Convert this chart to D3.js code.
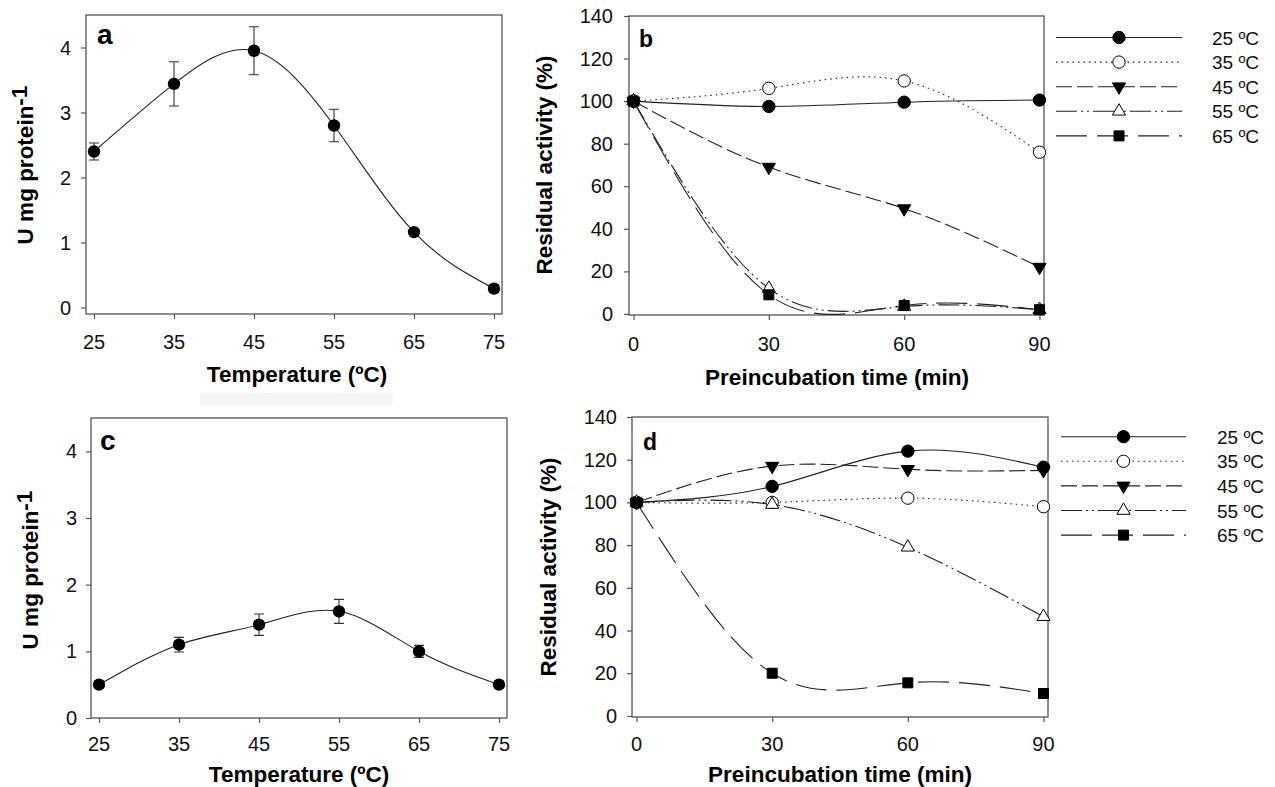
<!DOCTYPE html>
<html>
<head>
<meta charset="utf-8">
<script src="https://cdn.jsdelivr.net/npm/d3@7.9.0/dist/d3.min.js"></script>
<style>
  body { margin: 0; background: #fff; }
  svg { display: block; font-family: "Liberation Sans", Arial, sans-serif; }
</style>
</head>
<body>
<svg width="1275" height="787"></svg>
<script>
// temperature profiles (a, c)
const tempC = [25, 35, 45, 55, 65, 75];
const activityA = [2.4, 3.44, 3.95, 2.8, 1.16, 0.29];
const errorA = [0.13, 0.34, 0.37, 0.25, 0.03, 0.06];
const activityC = [0.5, 1.1, 1.4, 1.6, 1.0, 0.5];
const errorC = [0, 0.11, 0.16, 0.18, 0.09, 0];
const tempTicks = [25, 35, 45, 55, 65, 75];
const unitTicks = [0, 1, 2, 3, 4];

// thermal stability (b, d)
const preincTime = [0, 30, 60, 90];
const seriesLabels = ['25 ºC', '35 ºC', '45 ºC', '55 ºC', '65 ºC'];
const stabB25 = [100, 97.5, 99.5, 100.5];
const stabB35 = [100, 106, 109.5, 76];
const stabB45 = [100, 69, 49.5, 22];
const stabB55 = [100, 12, 3.5, 2];
const stabB65 = [100, 9, 4, 2];
const stabD25 = [100, 107.5, 124, 116.5];
const stabD35 = [100, 100, 102, 98];
const stabD45 = [100, 117, 115.5, 115];
const stabD55 = [100, 99, 79, 46.5];
const stabD65 = [100, 20, 15.5, 10.5];
const timeTicks = [0, 30, 60, 90];
const residualTicks = [0, 20, 40, 60, 80, 100, 120, 140];

const svg = d3.select('svg');
const frameColor = '#555';

// faint box left over in the source figure
svg.append('rect').attr('x', 200).attr('y', 393).attr('width', 193).attr('height', 12).attr('fill', '#f5f5f5');

// line + marker style per series
const styles = [
  { dash: null, sym: d3.symbolCircle, size: 120, fill: '#000', rot: 0 },
  { dash: '1.5,4', sym: d3.symbolCircle, size: 120, fill: '#fff', rot: 0 },
  { dash: '16,5', sym: d3.symbolTriangle, size: 75, fill: '#000', rot: 180 },
  { dash: '21,4,2,4,2,4', sym: d3.symbolTriangle, size: 75, fill: '#fff', rot: 0 },
  { dash: '31,10', sym: d3.symbolSquare, size: 100, fill: '#000', rot: 0 },
];

function drawMarker(g, st, x, y) {
  g.append('path')
    .attr('d', d3.symbol().type(st.sym).size(st.size)())
    .attr('transform', `translate(${x},${y}) rotate(${st.rot})`)
    .attr('fill', st.fill)
    .attr('stroke', '#000')
    .attr('stroke-width', 1);
}

function drawFrame(p, x, y) {
  let g = svg.append('g');
  g.append('rect')
    .attr('x', p.left).attr('y', p.top)
    .attr('width', p.right - p.left).attr('height', p.bottom - p.top)
    .attr('fill', 'none').attr('stroke', frameColor).attr('stroke-width', 1.3);

  // tick marks from d3 axes, labels written as plain text
  let xAxis = g.append('g')
    .attr('transform', `translate(0,${p.bottom})`)
    .call(d3.axisBottom(x).tickValues(p.xTicks).tickSize(5).tickSizeOuter(0));
  let yAxis = g.append('g')
    .attr('transform', `translate(${p.left},0)`)
    .call(d3.axisLeft(y).tickValues(p.yTicks).tickSize(5).tickSizeOuter(0));
  [xAxis, yAxis].forEach((a) => {
    a.select('.domain').remove();
    a.selectAll('text').remove();
    a.selectAll('line').attr('stroke', frameColor).attr('stroke-width', 1.2);
  });

  p.xTicks.forEach((t) => {
    g.append('text').attr('x', x(t)).attr('y', p.bottom + p.xPad)
      .attr('text-anchor', 'middle').attr('font-size', 20).attr('fill', '#111').text(t);
  });
  p.yTicks.forEach((t) => {
    g.append('text').attr('x', p.left - p.yPad).attr('y', y(t) + 7)
      .attr('text-anchor', 'end').attr('font-size', 20).attr('fill', '#111').text(t);
  });

  // panel letter
  g.append('text').attr('x', p.letterX).attr('y', p.letterY)
    .attr('font-size', p.letterSize).attr('font-weight', 'bold').text(p.letter);

  // axis titles
  g.append('text').attr('x', p.xTitleX).attr('y', p.xTitleY)
    .attr('text-anchor', 'middle').attr('font-size', 22.5).attr('font-weight', 'bold')
    .text(p.xTitle);
  let yt = g.append('text')
    .attr('transform', `translate(${p.yTitleX},${p.yTitleY}) rotate(-90)`)
    .attr('text-anchor', 'middle').attr('font-size', 22.5).attr('font-weight', 'bold');
  if (p.superscript) {
    yt.append('tspan').text(p.yTitle);
    yt.append('tspan').attr('dy', -6).text(p.superscript);
  } else {
    yt.text(p.yTitle);
  }
  return g;
}

function drawTempPanel(p, values, errors) {
  let x = d3.scaleLinear().domain([24, 76]).range([p.left, p.right]);
  let y = d3.scaleLinear().domain(p.yDomain).range([p.bottom, p.top]);
  let g = drawFrame(p, x, y);

  let pts = tempC.map((t, i) => ({ t, v: values[i], e: errors[i] }));
  let line = d3.line().x((d) => x(d.t)).y((d) => y(d.v)).curve(d3.curveNatural);
  g.append('path').attr('d', line(pts)).attr('fill', 'none').attr('stroke', '#222').attr('stroke-width', 1.1);

  pts.filter((d) => d.e > 0).forEach((d) => {
    let cx = x(d.t);
    let y1 = y(d.v + d.e), y2 = y(d.v - d.e);
    g.append('path')
      .attr('d', `M${cx},${y1}V${y2}M${cx - 5},${y1}H${cx + 5}M${cx - 5},${y2}H${cx + 5}`)
      .attr('stroke', '#333').attr('stroke-width', 1.1).attr('fill', 'none');
  });
  pts.forEach((d) => {
    g.append('circle').attr('cx', x(d.t)).attr('cy', y(d.v)).attr('r', 6.2).attr('fill', '#000');
  });
}

function drawStabilityPanel(p, series, legend) {
  let x = d3.scaleLinear().domain([-1, 91]).range([p.left, p.right]);
  let y = d3.scaleLinear().domain([-0.5, 140]).range([p.bottom, p.top]);
  let g = drawFrame(p, x, y);

  let line = d3.line().x((d, i) => x(preincTime[i])).y((d) => y(d)).curve(d3.curveNatural);
  series.forEach((vals, idx) => {
    g.append('path').attr('d', line(vals)).attr('fill', 'none')
      .attr('stroke', '#222').attr('stroke-width', 1.1)
      .attr('stroke-dasharray', styles[idx].dash);
  });
  series.forEach((vals, idx) => {
    vals.forEach((v, i) => drawMarker(g, styles[idx], x(preincTime[i]), y(v)));
  });

  // legend
  seriesLabels.forEach((label, idx) => {
    let ly = legend.y0 + idx * legend.step;
    g.append('line').attr('x1', legend.x1).attr('x2', legend.x2).attr('y1', ly).attr('y2', ly)
      .attr('stroke', '#222').attr('stroke-width', 1.1).attr('stroke-dasharray', styles[idx].dash);
    drawMarker(g, styles[idx], (legend.x1 + legend.x2) / 2, ly);
    g.append('text').attr('x', legend.tx).attr('y', ly + 7).attr('font-size', 19).attr('fill', '#111').text(label);
  });
}

drawTempPanel({
  left: 86, right: 502, top: 15, bottom: 314, yDomain: [-0.1, 4.5],
  xTicks: tempTicks, yTicks: unitTicks, xPad: 35, yPad: 15,
  letter: 'a', letterX: 97, letterY: 44, letterSize: 28,
  xTitle: 'Temperature (ºC)', xTitleX: 297, xTitleY: 382,
  yTitle: 'U mg protein', superscript: '-1', yTitleX: 33, yTitleY: 165,
}, activityA, errorA);

drawTempPanel({
  left: 91, right: 507, top: 418, bottom: 718, yDomain: [0, 4.5],
  xTicks: tempTicks, yTicks: unitTicks, xPad: 33, yPad: 14,
  letter: 'c', letterX: 100, letterY: 450, letterSize: 28,
  xTitle: 'Temperature (ºC)', xTitleX: 299, xTitleY: 782,
  yTitle: 'U mg protein', superscript: '-1', yTitleX: 38, yTitleY: 570,
}, activityC, errorC);

drawStabilityPanel({
  left: 629, right: 1044, top: 16, bottom: 315,
  xTicks: timeTicks, yTicks: residualTicks, xPad: 36, yPad: 16,
  letter: 'b', letterX: 639, letterY: 47, letterSize: 23,
  xTitle: 'Preincubation time (min)', xTitleX: 837, xTitleY: 385,
  yTitle: 'Residual activity (%)', yTitleX: 552, yTitleY: 165,
}, [stabB25, stabB35, stabB45, stabB55, stabB65],
  { x1: 1056, x2: 1182, y0: 37.5, step: 24.6, tx: 1212 });

drawStabilityPanel({
  left: 632, right: 1048, top: 417, bottom: 717,
  xTicks: timeTicks, yTicks: residualTicks, xPad: 34, yPad: 15,
  letter: 'd', letterX: 643, letterY: 450, letterSize: 23,
  xTitle: 'Preincubation time (min)', xTitleX: 840, xTitleY: 782,
  yTitle: 'Residual activity (%)', yTitleX: 556, yTitleY: 567,
}, [stabD25, stabD35, stabD45, stabD55, stabD65],
  { x1: 1061, x2: 1186, y0: 436.7, step: 24.6, tx: 1217 });
</script>
</body>
</html>
